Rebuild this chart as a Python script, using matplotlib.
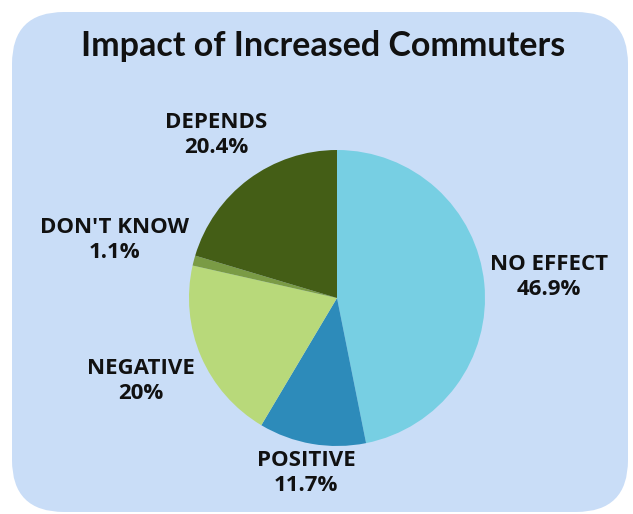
import matplotlib
matplotlib.use("Agg")
import matplotlib.pyplot as plt
from matplotlib.patches import FancyBboxPatch

# Survey responses
categories = ["NO EFFECT", "POSITIVE", "NEGATIVE", "DON'T KNOW", "DEPENDS"]
shares = [46.9, 11.7, 20.0, 1.1, 20.4]
share_labels = ["46.9%", "11.7%", "20%", "1.1%", "20.4%"]
colors = ["#77cfe3", "#2d8bba", "#b8d97a", "#7a9b45", "#445e16"]
title = "Impact of Increased Commuters"

W, H = 633, 514
fig = plt.figure(figsize=(W / 100, H / 100), dpi=100)
ax = fig.add_axes([0, 0, 1, 1])
ax.set_xlim(0, W)
ax.set_ylim(0, H)
ax.set_aspect("equal")
ax.axis("off")

# rounded card background
card = FancyBboxPatch((12, 2), 616, 500,
                      boxstyle="round,pad=0,rounding_size=52",
                      facecolor="#c9ddf7", edgecolor="none", zorder=0)
ax.add_patch(card)

ax.text(323, 468, title, ha="center", va="center", fontsize=24.5,
        fontweight="bold", family="Lato", color="#111111")

cx, cy, r = 337, 216, 148
ax.pie(shares, colors=colors, startangle=90, counterclock=False,
       center=(cx, cy), radius=r, frame=True,
       wedgeprops=dict(linewidth=0))
ax.set_xlim(0, W)
ax.set_ylim(0, H)
ax.axis("off")

# label anchor points (pixel space, y measured upward)
label_pos = {
    "NO EFFECT": (549, 237),
    "POSITIVE": (306, 41),
    "NEGATIVE": (141, 133),
    "DON'T KNOW": (114, 274),
    "DEPENDS": (216, 379),
}
for cat, lab in zip(categories, share_labels):
    x, y = label_pos[cat]
    ax.text(x, y, f"{cat}\n{lab}", ha="center", va="center", fontsize=16,
            fontweight="bold", family="Open Sans", color="#111111",
            linespacing=1.3)

fig.savefig("out.png", dpi=100)
